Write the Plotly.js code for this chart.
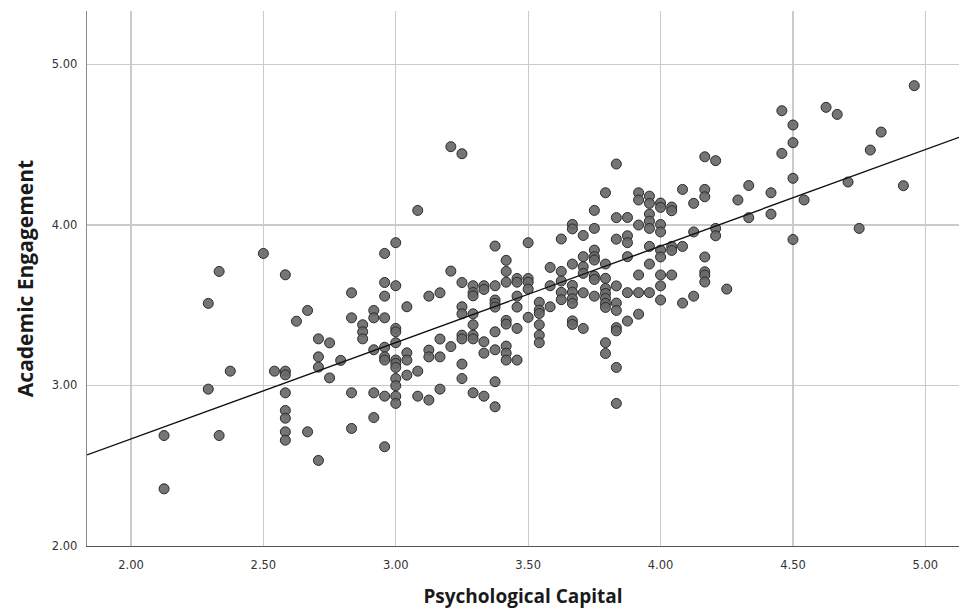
<!DOCTYPE html>
<html>
<head>
<meta charset="utf-8">
<script src="https://cdn.plot.ly/plotly-3.0.1.min.js"></script>
<style>
html,body{margin:0;padding:0;background:#fff;}
#chart{width:959px;height:612px;}
</style>
</head>
<body>
<div id="chart"></div>
<script>
// Psychological Capital (x) values, grouped by column
var psyCap = [
  2.125,2.125,
  2.292,2.292,
  2.333,2.333,
  2.375,
  2.5,
  2.542,
  2.583,2.583,2.583,2.583,2.583,2.583,2.583,2.583,
  2.625,
  2.667,2.667,
  2.708,2.708,2.708,2.708,
  2.75,2.75,
  2.792,
  2.833,2.833,2.833,2.833,
  2.875,2.875,2.875,
  2.917,2.917,2.917,2.917,2.917,
  2.958,2.958,2.958,2.958,2.958,2.958,2.958,2.958,2.958,
  3.0,3.0,3.0,3.0,3.0,3.0,3.0,3.0,3.0,3.0,3.0,3.0,
  3.042,3.042,3.042,3.042,
  3.083,3.083,3.083,
  3.125,3.125,3.125,3.125,
  3.167,3.167,3.167,3.167,
  3.208,3.208,3.208,
  3.25,3.25,3.25,3.25,3.25,3.25,3.25,3.25,
  3.292,3.292,3.292,3.292,3.292,3.292,3.292,3.292,
  3.333,3.333,3.333,3.333,3.333,
  3.375,3.375,3.375,3.375,3.375,3.375,3.375,3.375,3.375,
  3.417,3.417,3.417,3.417,3.417,3.417,3.417,3.417,
  3.458,3.458,3.458,3.458,3.458,3.458,
  3.5,3.5,3.5,3.5,3.5,
  3.542,3.542,3.542,3.542,3.542,3.542,
  3.583,3.583,3.583,
  3.625,3.625,3.625,3.625,3.625,
  3.667,3.667,3.667,3.667,3.667,3.667,3.667,3.667,3.667,
  3.708,3.708,3.708,3.708,3.708,3.708,
  3.75,3.75,3.75,3.75,3.75,3.75,3.75,3.75,
  3.792,3.792,3.792,3.792,3.792,3.792,3.792,3.792,3.792,3.792,
  3.833,3.833,3.833,3.833,3.833,3.833,3.833,3.833,3.833,3.833,
  3.875,3.875,3.875,3.875,3.875,3.875,
  3.917,3.917,3.917,3.917,3.917,3.917,
  3.958,3.958,3.958,3.958,3.958,3.958,3.958,3.958,
  4.0,4.0,4.0,4.0,4.0,4.0,4.0,4.0,4.0,
  4.042,4.042,4.042,4.042,4.042,
  4.083,4.083,4.083,
  4.125,4.125,4.125,
  4.167,4.167,4.167,4.167,4.167,4.167,4.167,
  4.208,4.208,4.208,
  4.25,
  4.292,
  4.333,4.333,
  4.417,4.417,
  4.458,4.458,
  4.5,4.5,4.5,4.5,
  4.542,
  4.625,
  4.667,
  4.708,
  4.75,
  4.792,
  4.833,
  4.917,
  4.958
];
// Academic Engagement (y) values, same order
var acadEng = [
  2.688,2.356,
  3.511,2.977,
  3.710,2.688,
  3.089,
  3.822,
  3.089,
  3.689,3.089,3.066,2.954,2.844,2.796,2.711,2.659,
  3.400,
  3.467,2.711,
  3.290,3.178,3.114,2.533,
  3.265,3.047,
  3.156,
  3.577,3.421,2.954,2.732,
  3.378,3.334,3.290,
  3.467,3.421,3.222,2.954,2.800,
  3.822,3.641,3.556,3.421,3.238,3.178,3.158,2.933,2.618,
  3.889,3.621,3.355,3.334,3.266,3.158,3.137,3.112,3.043,2.998,2.933,2.888,
  3.490,3.203,3.158,3.064,
  4.090,3.089,2.933,
  3.556,3.220,3.178,2.909,
  3.577,3.289,3.178,2.977,
  4.487,3.712,3.242,
  4.443,3.641,3.490,3.446,3.313,3.290,3.133,3.043,
  3.621,3.579,3.558,3.446,3.378,3.313,3.290,2.954,
  3.621,3.598,3.272,3.201,2.933,
  3.868,3.621,3.532,3.511,3.488,3.334,3.222,3.023,2.867,
  3.779,3.710,3.643,3.405,3.382,3.245,3.201,3.158,
  3.666,3.643,3.556,3.488,3.355,3.158,
  3.889,3.666,3.643,3.600,3.424,
  3.518,3.469,3.448,3.378,3.313,3.266,
  3.735,3.621,3.490,
  3.912,3.710,3.650,3.580,3.534,
  4.003,3.975,3.756,3.623,3.581,3.540,3.511,3.402,3.380,
  3.934,3.802,3.739,3.698,3.577,3.355,
  4.090,3.978,3.843,3.802,3.781,3.681,3.660,3.556,
  4.200,3.756,3.667,3.604,3.573,3.542,3.511,3.486,3.266,3.199,
  4.379,4.045,3.911,3.620,3.513,3.467,3.360,3.340,3.112,2.888,
  4.046,3.932,3.889,3.802,3.578,3.401,
  4.200,4.155,3.999,3.688,3.578,3.444,
  4.179,4.134,4.067,4.023,3.978,3.866,3.756,3.578,
  4.136,4.109,4.002,3.956,3.843,3.800,3.688,3.620,3.532,
  4.111,4.088,3.866,3.841,3.688,
  4.221,3.866,3.513,
  4.134,3.956,3.556,
  4.424,4.221,4.175,3.800,3.708,3.687,3.644,
  4.400,3.978,3.932,
  3.600,
  4.155,
  4.245,4.045,
  4.200,4.067,
  4.711,4.445,
  4.622,4.512,4.290,3.909,
  4.155,
  4.732,
  4.688,
  4.267,
  3.978,
  4.466,
  4.578,
  4.244,
  4.867
];
// Fit line end points
var fitX = [1.834, 5.127];
var fitY = [2.567, 4.545];
var xTickVals = [2.0, 2.5, 3.0, 3.5, 4.0, 4.5, 5.0];
var xTickText = ["2.00","2.50","3.00","3.50","4.00","4.50","5.00"];
var yTickVals = [2.0, 3.0, 4.0, 5.0];
var yTickText = ["2.00","3.00","4.00","5.00"];

var traces = [
  {
    x: psyCap, y: acadEng, type: 'scatter', mode: 'markers',
    marker: {size: 10, color: 'rgba(105,105,105,0.92)', line: {color: '#2a2a2a', width: 1}},
    hoverinfo: 'x+y', showlegend: false
  },
  {
    x: fitX, y: fitY, type: 'scatter', mode: 'lines',
    line: {color: '#111111', width: 1.4}, hoverinfo: 'skip', showlegend: false
  }
];

var layout = {
  width: 959, height: 612,
  margin: {l: 87, r: 0, t: 11, b: 66, pad: 0},
  paper_bgcolor: '#ffffff', plot_bgcolor: '#ffffff',
  showlegend: false,
  xaxis: {
    range: [1.834, 5.127], tickvals: xTickVals, ticktext: xTickText,
    showgrid: true, gridcolor: '#cbcbcb', gridwidth: 1.3,
    zeroline: false, showline: true, linecolor: '#555555', linewidth: 1.3,
    ticks: '', ticklabelstandoff: 8,
    tickfont: {family: 'DejaVu Sans, sans-serif', size: 11.5, color: '#333333'},
    title: {text: 'Psychological Capital', standoff: 18,
            font: {family: 'Open Sans, sans-serif', size: 19, color: '#1a1a1a', weight: 'bold'}}
  },
  yaxis: {
    range: [2.0, 5.332], tickvals: yTickVals, ticktext: yTickText,
    showgrid: true, gridcolor: '#cbcbcb', gridwidth: 1.3,
    zeroline: false, showline: true, linecolor: '#8a8a8a', linewidth: 1.3,
    ticks: '', ticklabelstandoff: 6,
    tickfont: {family: 'DejaVu Sans, sans-serif', size: 11.5, color: '#333333'},
    title: {text: 'Academic Engagement', standoff: 12,
            font: {family: 'Open Sans, sans-serif', size: 21, color: '#1a1a1a', weight: 'bold'}}
  }
};

Plotly.newPlot('chart', traces, layout, {displayModeBar: false, staticPlot: true});
</script>
</body>
</html>
